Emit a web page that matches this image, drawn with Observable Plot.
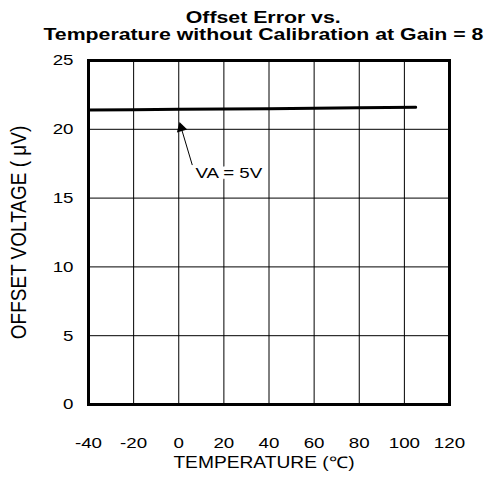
<!DOCTYPE html>
<html>
<head>
<meta charset="utf-8">
<script src="https://cdn.jsdelivr.net/npm/d3@7"></script>
<script src="https://cdn.jsdelivr.net/npm/@observablehq/plot@0.6"></script>
<style>
  html, body { margin: 0; padding: 0; background: #fff; }
  #title { width: 487px; box-sizing: border-box; padding-left: 40px; height: 44px; padding-top: 9px;
           font: bold 16px "Liberation Sans", Arial, sans-serif; line-height: 17px; text-align: center; color: #000; }
  #title span { display: inline-block; transform: scaleX(1.33); transform-origin: center; white-space: nowrap; }
  #chart svg { display: block; }
</style>
</head>
<body>
<div id="title"><span id="t1"></span><br><span id="t2"></span></div>
<div id="chart"></div>
<script>
const titleLines = ["Offset Error vs.", "Temperature without Calibration at Gain = 8"];
const xLabel = "TEMPERATURE (℃)";
const yLabel = "OFFSET VOLTAGE ( μV)";
const xTicks = [-40, -20, 0, 20, 40, 60, 80, 100, 120];
const yTicks = [0, 5, 10, 15, 20, 25];
const temperature = [-40, -20, 0, 20, 40, 60, 80, 105];
const offsetVoltage = [21.4, 21.42, 21.45, 21.48, 21.5, 21.53, 21.56, 21.6];
const annotationLabel = ["VA = 5V"];
const annotationText = [7.4, 16.8];
const arrowTail = [6.0, 17.4];
const arrowHead = [1.1, 20.1];

document.getElementById("t1").textContent = titleLines[0];
document.getElementById("t2").textContent = titleLines[1];

const lineData = temperature.map((t, i) => ({t, v: offsetVoltage[i]}));
const font = "'Liberation Sans', Arial, sans-serif";

const chart = Plot.plot({
  width: 487,
  height: 433,
  marginTop: 16,
  marginLeft: 88,
  marginRight: 38,
  marginBottom: 73,
  style: {fontFamily: font, fontSize: "15px", color: "#000", background: "#fff"},
  x: {domain: [-40, 120], ticks: xTicks, tickSize: 0, tickPadding: 33, tickFormat: d => `${d}`, label: null},
  y: {domain: [0, 25], ticks: yTicks, tickSize: 0, tickPadding: 15, tickFormat: d => `${d}`, label: null},
  marks: [
    Plot.gridX(xTicks, {stroke: "#000", strokeOpacity: 1, strokeWidth: 1}),
    Plot.gridY(yTicks, {stroke: "#000", strokeOpacity: 1, strokeWidth: 1}),
    Plot.text(annotationLabel, {x: annotationText[0], y: annotationText[1], text: d => d, textAnchor: "start", fontSize: 15, fill: "#000", stroke: "#fff", strokeWidth: 7}),
    Plot.frame({stroke: "#000", strokeWidth: 3}),
    Plot.line(lineData, {x: "t", y: "v", stroke: "#000", strokeWidth: 3}),
    Plot.link([0], {x1: arrowTail[0], y1: arrowTail[1], x2: arrowHead[0], y2: arrowHead[1], stroke: "#000", strokeWidth: 1}),
    Plot.dot([0], {x: arrowHead[0], y: arrowHead[1], symbol: "triangle", r: 4, fill: "#000", stroke: "none", rotate: -16}),
    Plot.text([xLabel], {frameAnchor: "bottom", text: d => d, dy: 58, dx: -5, textAnchor: "middle", lineAnchor: "middle", fontSize: 16, fill: "#000"}),
    Plot.text([yLabel], {frameAnchor: "left", text: d => d, dx: -70, rotate: -90, textAnchor: "middle", lineAnchor: "middle", fontSize: 19, fill: "#000"})
  ]
});
document.getElementById("chart").appendChild(chart);

// horizontal stretch of text to match the reference's wide lettering
function stretchNodes(nodes, s, anchor) {
  nodes.forEach(t => {
    const r = t.getBoundingClientRect();
    const cx = anchor === "start" ? r.left : anchor === "end" ? r.right : (r.left + r.right) / 2;
    const pt = chart.createSVGPoint();
    pt.x = cx; pt.y = (r.top + r.bottom) / 2;
    const local = pt.matrixTransform(t.parentNode.getScreenCTM().inverse());
    const g = document.createElementNS("http://www.w3.org/2000/svg", "g");
    g.setAttribute("transform", `translate(${local.x},0) scale(${s},1) translate(${-local.x},0)`);
    t.parentNode.insertBefore(g, t);
    g.appendChild(t);
  });
}
const textGroups = chart.querySelectorAll('g[aria-label="text"]');
stretchNodes(chart.querySelectorAll('g[aria-label="x-axis tick label"] text'), 1.25, "middle");
stretchNodes(chart.querySelectorAll('g[aria-label="y-axis tick label"] text'), 1.25, "end");
if (textGroups[0]) stretchNodes(textGroups[0].querySelectorAll("text"), 1.25, "start");
if (textGroups[1]) stretchNodes(textGroups[1].querySelectorAll("text"), 1.2, "middle");
if (textGroups[2]) stretchNodes(textGroups[2].querySelectorAll("text"), 1.2, "middle");
</script>
</body>
</html>
